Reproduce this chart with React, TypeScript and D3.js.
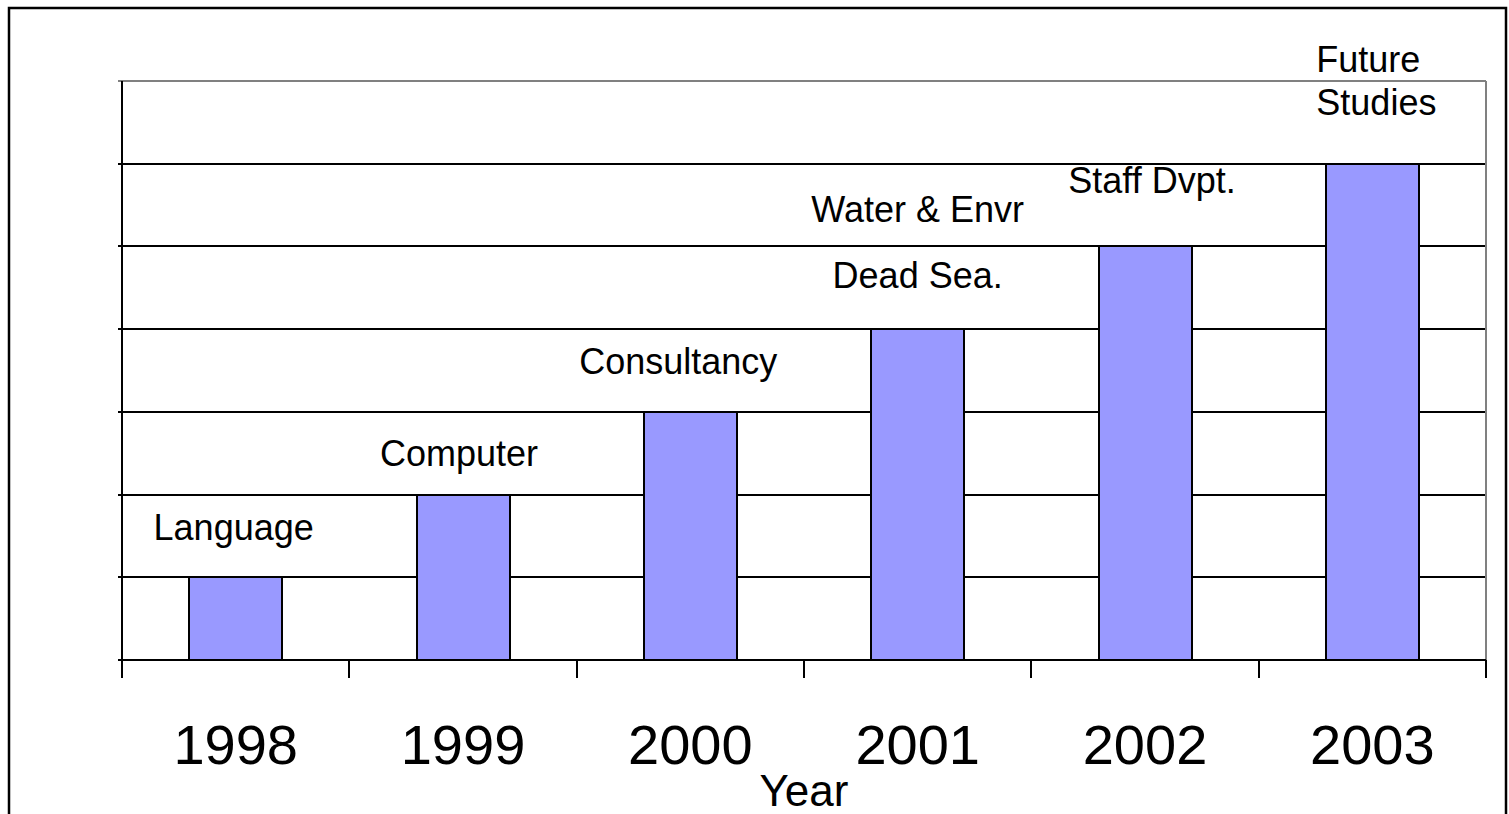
import React from "react";
import * as d3 from "d3";

const years = ["1998", "1999", "2000", "2001", "2002", "2003"];
const values = [1, 2, 3, 4, 5, 6];
const barLabels = [["Language"], ["Computer"], ["Consultancy"], ["Water & Envr", "Dead Sea."], ["Staff Dvpt."], ["Future", "Studies"]];
const yTicks = [0, 1, 2, 3, 4, 5, 6, 7];

// layout of the data labels: [dx from band center, baseline offset above bar top]
const labelLayout = [
  { dx: -2, dy: 37, anchor: "middle" },
  { dx: -4, dy: 29, anchor: "middle" },
  { dx: -12, dy: 38, anchor: "middle" },
  { dx: 0, dy: 41, anchor: "middle" },
  { dx: 7, dy: 53, anchor: "middle" },
  { dx: -56, dy: 49, anchor: "start" },
];

const W = 1509;
const H = 814;
const left = 122;
const right = 1486;
const top = 81;
const bottom = 660;
const font = "'Liberation Sans', Arial, sans-serif";

export default function App() {
  const x = d3.scaleBand<string>().domain(years).range([left, right]).padding(0);
  const y = d3.scaleLinear().domain([0, 7]).range([bottom, top]);
  const yr = (v: number) => Math.round(y(v));
  const bw = Math.round(x.bandwidth() * 0.41);
  const boundaries = years.map((s) => Math.round(x(s) as number)).concat([right]);

  return (
    <svg width={W} height={H} style={{ position: "absolute", left: 0, top: 0, background: "#fff" }}>
      <rect x={9} y={8} width={1497} height={H + 20} fill="#fff" stroke="#000" strokeWidth={2.5} />
      {/* gridlines */}
      {yTicks.map((t) => (
        <line key={t} x1={118} x2={right} y1={yr(t)} y2={yr(t)} stroke={t === 7 ? "#808080" : "#000"} strokeWidth={2} />
      ))}
      <line x1={right} x2={right} y1={top} y2={bottom} stroke="#808080" strokeWidth={2} />
      {/* bars */}
      {years.map((s, i) => {
        const cx = (x(s) as number) + x.bandwidth() / 2;
        const bx = Math.round(cx - bw / 2);
        return (
          <rect key={s} x={bx} y={yr(values[i])} width={bw} height={bottom - yr(values[i])} fill="#9999FF" stroke="#000" strokeWidth={2} />
        );
      })}
      {/* axes */}
      <line x1={left} x2={left} y1={top} y2={678} stroke="#000" strokeWidth={2} />
      <line x1={left} x2={right} y1={bottom} y2={bottom} stroke="#000" strokeWidth={2} />
      {boundaries.map((b, i) => (
        <line key={i} x1={b} x2={b} y1={bottom} y2={678} stroke="#000" strokeWidth={2} />
      ))}
      {/* year labels */}
      {years.map((s) => (
        <text key={s} x={(x(s) as number) + x.bandwidth() / 2} y={764} textAnchor="middle" fontFamily={font} fontSize={56}>
          {s}
        </text>
      ))}
      <text x={(left + right) / 2} y={806} textAnchor="middle" fontFamily={font} fontSize={44}>
        Year
      </text>
      {/* data labels */}
      {years.map((s, i) => {
        const L = labelLayout[i];
        const cx = (x(s) as number) + x.bandwidth() / 2 + L.dx;
        const base = y(values[i]) - L.dy;
        const lines = barLabels[i];
        if (i === 3) {
          return (
            <g key={s}>
              <text x={cx} y={base - 66} textAnchor="middle" fontFamily={font} fontSize={36}>{lines[0]}</text>
              <text x={cx} y={base} textAnchor="middle" fontFamily={font} fontSize={36}>{lines[1]}</text>
            </g>
          );
        }
        return (
          <g key={s}>
            {lines.map((ln, j) => (
              <text key={j} x={cx} y={base - (lines.length - 1 - j) * 43} textAnchor={L.anchor} fontFamily={font} fontSize={36}>
                {ln}
              </text>
            ))}
          </g>
        );
      })}
    </svg>
  );
}
